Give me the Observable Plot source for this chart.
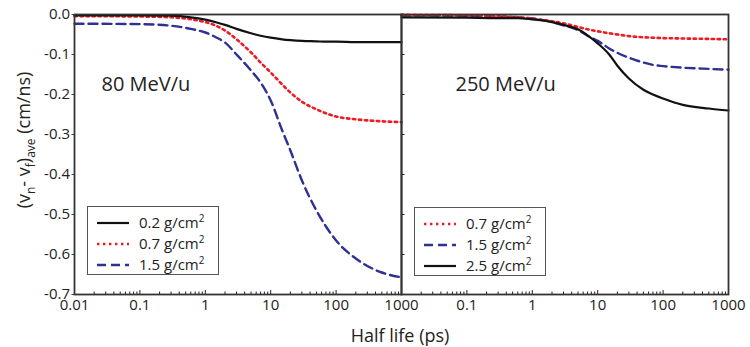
<!DOCTYPE html>
<html>
<head>
<meta charset="utf-8">
<script src="https://cdn.jsdelivr.net/npm/d3@7"></script>
<script src="https://cdn.jsdelivr.net/npm/@observablehq/plot@0.6"></script>
<style>
  body { margin: 0; background: #fff; font-family: "Open Sans", sans-serif; }
  #wrap { position: relative; width: 750px; height: 347px; overflow: hidden; }
  .legend { position: absolute; background: #fff; border: 1px solid #555; box-sizing: border-box; }
  .legend .row { position: absolute; left: 0; height: 20px; width: 100%; }
  .legend .row svg { position: absolute; top: 0; }
  .legend .row span { position: absolute; top: -1px; font-size: 15px; line-height: 20px; color: #222; white-space: nowrap; }
  .legend sup { font-size: 10px; vertical-align: 0; position: relative; top: -6px; }
  .ylab { position: absolute; left: 23px; top: 140px; transform: translate(-50%, -50%) rotate(-90deg); font-size: 18px; color: #222; white-space: nowrap; }
  .ylab sub { font-size: 12px; vertical-align: 0; position: relative; top: 5px; }
  .xlab { position: absolute; left: 400px; top: 335px; transform: translate(-50%, -50%); font-size: 18px; line-height: 22px; color: #222; white-space: nowrap; }
</style>
</head>
<body>
<div id="wrap"></div>
<script>
// ---- data ----
const panels = ["80 MeV/u", "250 MeV/u"];
const halfLife = [0.01, 0.1, 0.3, 0.6, 1, 1.5, 2, 3, 5, 7, 10, 15, 20, 30, 50, 70, 100, 200, 500, 1000];

// 80 MeV/u
const v80_02 = [-0.002, -0.002, -0.003, -0.007, -0.013, -0.020, -0.026, -0.036, -0.047, -0.053, -0.058, -0.062, -0.064, -0.066, -0.067, -0.068, -0.068, -0.069, -0.069, -0.069];
const v80_07 = [-0.004, -0.005, -0.007, -0.012, -0.019, -0.029, -0.040, -0.062, -0.095, -0.120, -0.145, -0.175, -0.195, -0.218, -0.237, -0.247, -0.255, -0.262, -0.267, -0.269];
const v80_15 = [-0.023, -0.024, -0.028, -0.036, -0.045, -0.058, -0.070, -0.100, -0.140, -0.170, -0.215, -0.290, -0.340, -0.415, -0.490, -0.530, -0.565, -0.610, -0.645, -0.657];
// 250 MeV/u
const v250_07 = [-0.001, -0.002, -0.004, -0.007, -0.010, -0.014, -0.017, -0.022, -0.031, -0.037, -0.042, -0.047, -0.050, -0.054, -0.057, -0.058, -0.059, -0.060, -0.061, -0.062];
const v250_15 = [-0.002, -0.003, -0.005, -0.007, -0.010, -0.015, -0.019, -0.027, -0.039, -0.053, -0.066, -0.085, -0.096, -0.108, -0.120, -0.126, -0.129, -0.133, -0.136, -0.138];
const v250_25 = [-0.007, -0.008, -0.009, -0.009, -0.012, -0.015, -0.019, -0.026, -0.037, -0.052, -0.072, -0.100, -0.128, -0.160, -0.188, -0.200, -0.210, -0.226, -0.235, -0.240];

const legendLeft = ["0.2", "0.7", "1.5"];
const legendRight = ["0.7", "1.5", "2.5"];

const xMajorTicks = [0.01, 0.1, 1, 10, 100, 1000];
const xTickLabelsLeft = ["0.01", "0.1", "1", "10", "100", "1000"];
const xTickLabelsRight = ["0.1", "1", "10", "100", "1000"];
const yTicks = [0, -0.1, -0.2, -0.3, -0.4, -0.5, -0.6, -0.7];
const yTickLabels = ["0.0", "-0.1", "-0.2", "-0.3", "-0.4", "-0.5", "-0.6", "-0.7"];

// ---- styles ----
const styles = {
  "0.2": {stroke: "#111", strokeWidth: 2.2, strokeDasharray: null},
  "2.5": {stroke: "#111", strokeWidth: 2.2, strokeDasharray: null},
  "0.7": {stroke: "#ed1c24", strokeWidth: 2.6, strokeDasharray: "2.4,3.6"},
  "1.5": {stroke: "#2e3192", strokeWidth: 2.4, strokeDasharray: "9,5"}
};

// ---- build table ----
const seriesList = [
  [panels[0], "0.2", v80_02], [panels[0], "0.7", v80_07], [panels[0], "1.5", v80_15],
  [panels[1], "0.7", v250_07], [panels[1], "1.5", v250_15], [panels[1], "2.5", v250_25]
];
const rows = seriesList.flatMap(([panel, thick, vals]) =>
  vals.map((v, i) => ({panel, thick, t: halfLife[i], v})));

const xLabelRows = [
  ...xTickLabelsLeft.map(l => ({panel: panels[0], t: +l, label: l})),
  ...xTickLabelsRight.map(l => ({panel: panels[1], t: +l, label: l}))
];
const xMinorTicks = xMajorTicks.slice(0, -1).flatMap(m => d3.range(2, 10).map(k => k * m));
const yLabelMap = new Map(yTicks.map((t, i) => [t, yTickLabels[i]]));

const lineMark = thick => Plot.line(rows.filter(d => d.thick === thick), {
  x: "t", y: "v", fx: "panel", z: "panel", curve: "monotone-x",
  stroke: styles[thick].stroke, strokeWidth: styles[thick].strokeWidth,
  strokeDasharray: styles[thick].strokeDasharray
});

const W = 750, ML = 73, MR = 22;
const facetWidth = (W - ML - MR) / panels.length;

const chart = Plot.plot({
  width: W,
  height: 347,
  marginLeft: ML,
  marginRight: MR,
  marginTop: 14,
  marginBottom: 53,
  style: {fontFamily: "Open Sans", fontSize: "15px", color: "#222", overflow: "visible", background: "transparent"},
  fx: {domain: panels, padding: 0, axis: null},
  x: {type: "log", domain: [0.01, 1000], axis: null},
  y: {domain: [-0.7, 0], axis: null},
  marks: [
    lineMark("1.5"),
    lineMark("0.7"),
    lineMark("0.2"),
    lineMark("2.5"),
    Plot.axisX({anchor: "bottom", label: null, ticks: xMinorTicks, tickSize: -2.5, tickFormat: () => "", stroke: "#222"}),
    Plot.axisX({anchor: "bottom", label: null, ticks: xMajorTicks, tickSize: -4, tickFormat: () => "", stroke: "#222"}),
    Plot.text(xLabelRows, {x: "t", fx: "panel", text: "label", frameAnchor: "bottom", dy: 15, fontSize: 15, fill: "#222"}),
    Plot.axisY({anchor: "left", label: null, ticks: yTicks, tickSize: 2.5, tickPadding: 2, tickFormat: d => yLabelMap.get(d), fontSize: 15, stroke: "#444"}),
    Plot.tickY(yTicks, {y: d => d, fx: () => panels[1], insetRight: facetWidth - 4, stroke: "#222", strokeWidth: 1}),
    Plot.frame({stroke: "#333", strokeWidth: 1.8}),
    Plot.text([panels[0]], {fx: d => d, text: d => d, frameAnchor: "top-left", textAnchor: "start", dx: 27, dy: 62, fontSize: 20, fill: "#222"}),
    Plot.text([panels[1]], {fx: d => d, text: d => d, frameAnchor: "top-left", textAnchor: "start", dx: 54, dy: 62, fontSize: 20, fill: "#222"})
  ]
});

const wrap = document.getElementById("wrap");
wrap.appendChild(chart);

// axis titles
const ylab = document.createElement("div");
ylab.className = "ylab";
ylab.innerHTML = "(v<sub>n</sub>- v<sub>f</sub>)<sub>ave</sub> (cm/ns)";
wrap.appendChild(ylab);
const xlab = document.createElement("div");
xlab.className = "xlab";
xlab.textContent = "Half life (ps)";
wrap.appendChild(xlab);

// legends
function makeLegend(items, left, top) {
  const box = document.createElement("div");
  box.className = "legend";
  Object.assign(box.style, {left: left + "px", top: top + "px", width: "132px", height: "69px"});
  items.forEach((thick, i) => {
    const row = document.createElement("div");
    row.className = "row";
    row.style.top = (6 + i * 21) + "px";
    const s = styles[thick];
    const svg = d3.create("svg").attr("width", 34).attr("height", 20).style("left", "8px");
    svg.append("line").attr("x1", 1).attr("x2", 33).attr("y1", 10).attr("y2", 10)
      .attr("stroke", s.stroke).attr("stroke-width", s.strokeWidth)
      .attr("stroke-dasharray", s.strokeDasharray);
    row.appendChild(svg.node());
    const span = document.createElement("span");
    span.style.left = "51px";
    span.innerHTML = thick + " g/cm<sup>2</sup>";
    row.appendChild(span);
    box.appendChild(row);
  });
  wrap.appendChild(box);
}
makeLegend(legendLeft, 87, 206);
makeLegend(legendRight, 414, 207);
</script>
</body>
</html>
